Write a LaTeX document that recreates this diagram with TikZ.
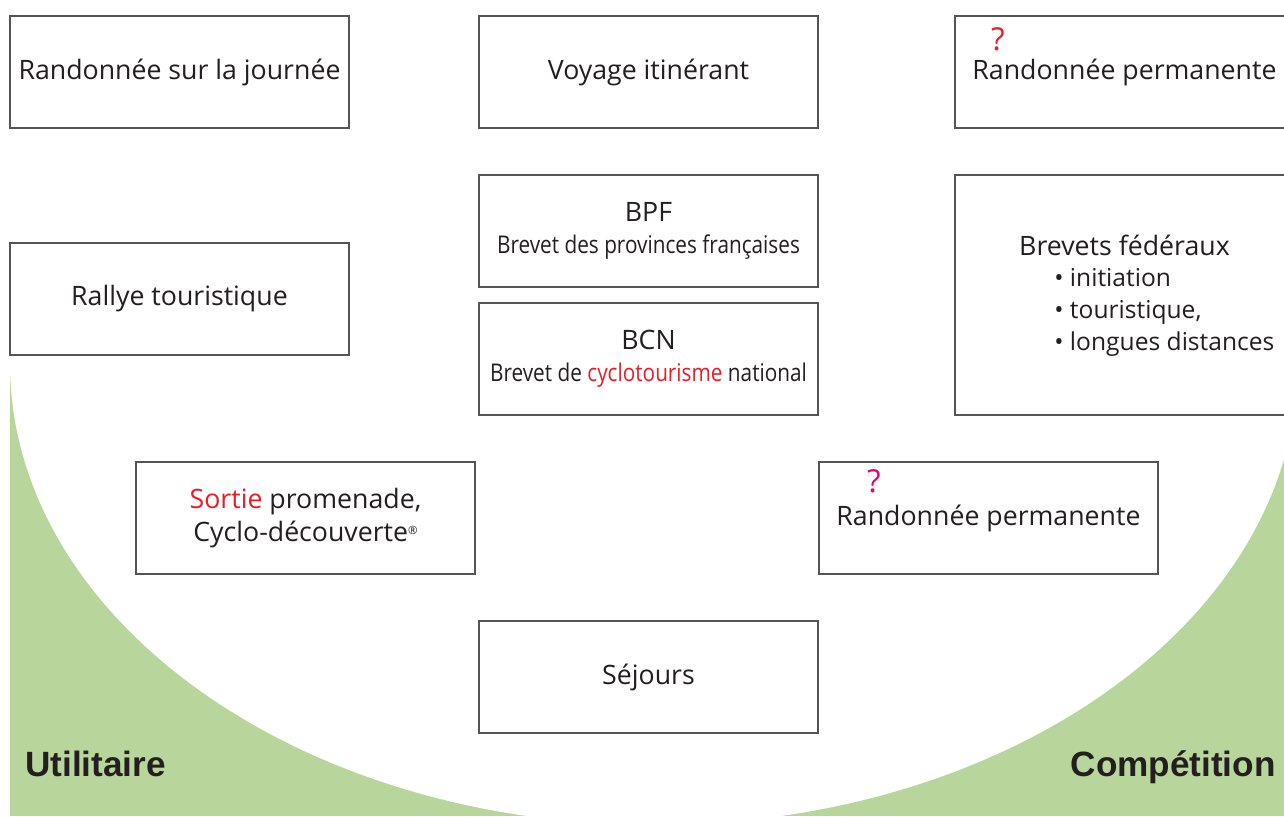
\documentclass[tikz,border=0pt]{standalone}
\usepackage{fontspec}
\setmainfont{Open Sans}
\newfontfamily\narrowfont[FakeStretch=0.85]{Open Sans}
\newfontfamily\labelfont{Liberation Sans}
\usepackage[dvipsnames]{xcolor}
\definecolor{leafgreen}{RGB}{184,214,155}
\definecolor{inkgray}{RGB}{35,31,32}
\definecolor{framegray}{RGB}{85,85,85}
\definecolor{alertred}{RGB}{237,28,36}
\definecolor{querypink}{RGB}{230,0,126}
\newcommand{\boxfont}{\fontsize{15.2}{18.4}\selectfont}
\newcommand{\listfont}{\fontsize{14}{18.2}\selectfont}
\newcommand{\subfont}{\narrowfont\fontsize{13.9}{17}\selectfont}
\newcommand{\regmark}{{\fontsize{6.5}{6.5}\selectfont\raisebox{1.1ex}{®}}}

\begin{document}
\begin{tikzpicture}[x=0.02cm,y=-0.02cm,
    activity/.style={draw=framegray,line width=0.9pt,fill=white,
        minimum width=6.78cm,minimum height=2.24cm,inner sep=0pt,
        text=inkgray,font=\boxfont,align=center},
    tallbox/.style={activity,minimum height=4.8cm},
    query/.style={font=\fontsize{18}{18}\selectfont,inner sep=0pt},
    side/.style={font=\labelfont\bfseries\fontsize{20}{24}\selectfont,
        text=inkgray,inner sep=0pt}]
    \clip (0,0) rectangle (1284,816);
    % green area outside the half ellipse
    \begin{scope}
        \clip (10,363) rectangle (1284,816);
        \fill[leafgreen] (10,363) rectangle (1284,816);
        \fill[white] (654,363) ellipse [x radius=644, y radius=462];
    \end{scope}
    % boxes
    \node[activity] (journee) at (179.5,72) {Randonnée sur la journée};
    \node[activity] (voyage) at (648.5,72) {Voyage itinérant};
    \node[activity] (permhaut) at (1124.5,72) {Randonnée permanente};
    \node[activity] (bpf) at (648.5,231)
        {BPF\\{\subfont Brevet des provinces françaises}};
    \node[activity] (rallye) at (179.5,299) {Rallye touristique};
    \node[tallbox] (federaux) at (1124.5,295) {};
    \node[activity] (bcn) at (648.5,359)
        {BCN\\{\subfont Brevet de \textcolor{alertred}{cyclotourisme} national}};
    \node[activity] (sortie) at (305.5,518)
        {\textcolor{alertred}{Sortie} promenade,\\Cyclo-découverte\regmark};
    \node[activity] (permbas) at (988.5,518) {Randonnée permanente};
    \node[activity] (sejours) at (648.5,677) {Séjours};
    % texts of the tall box
    \node[font=\boxfont,text=inkgray,inner sep=0pt] (fedtitre) at (1124.5,245)
        {Brevets fédéraux};
    \node[font=\listfont,text=inkgray,inner sep=0pt,anchor=west,align=left]
        (fedliste) at (1054,312)
        {• initiation\\• touristique,\\• longues distances};
    % question marks
    \node[query,text=alertred] (qhaut) at (998,39) {?};
    \node[query,text=querypink] (qbas) at (874,481) {?};
    % sides
    \node[side,anchor=base west] (utilitaire) at (25,776) {Utilitaire};
    \node[side,anchor=base east] (competition) at (1276,776) {Compétition};
\end{tikzpicture}
\end{document}
